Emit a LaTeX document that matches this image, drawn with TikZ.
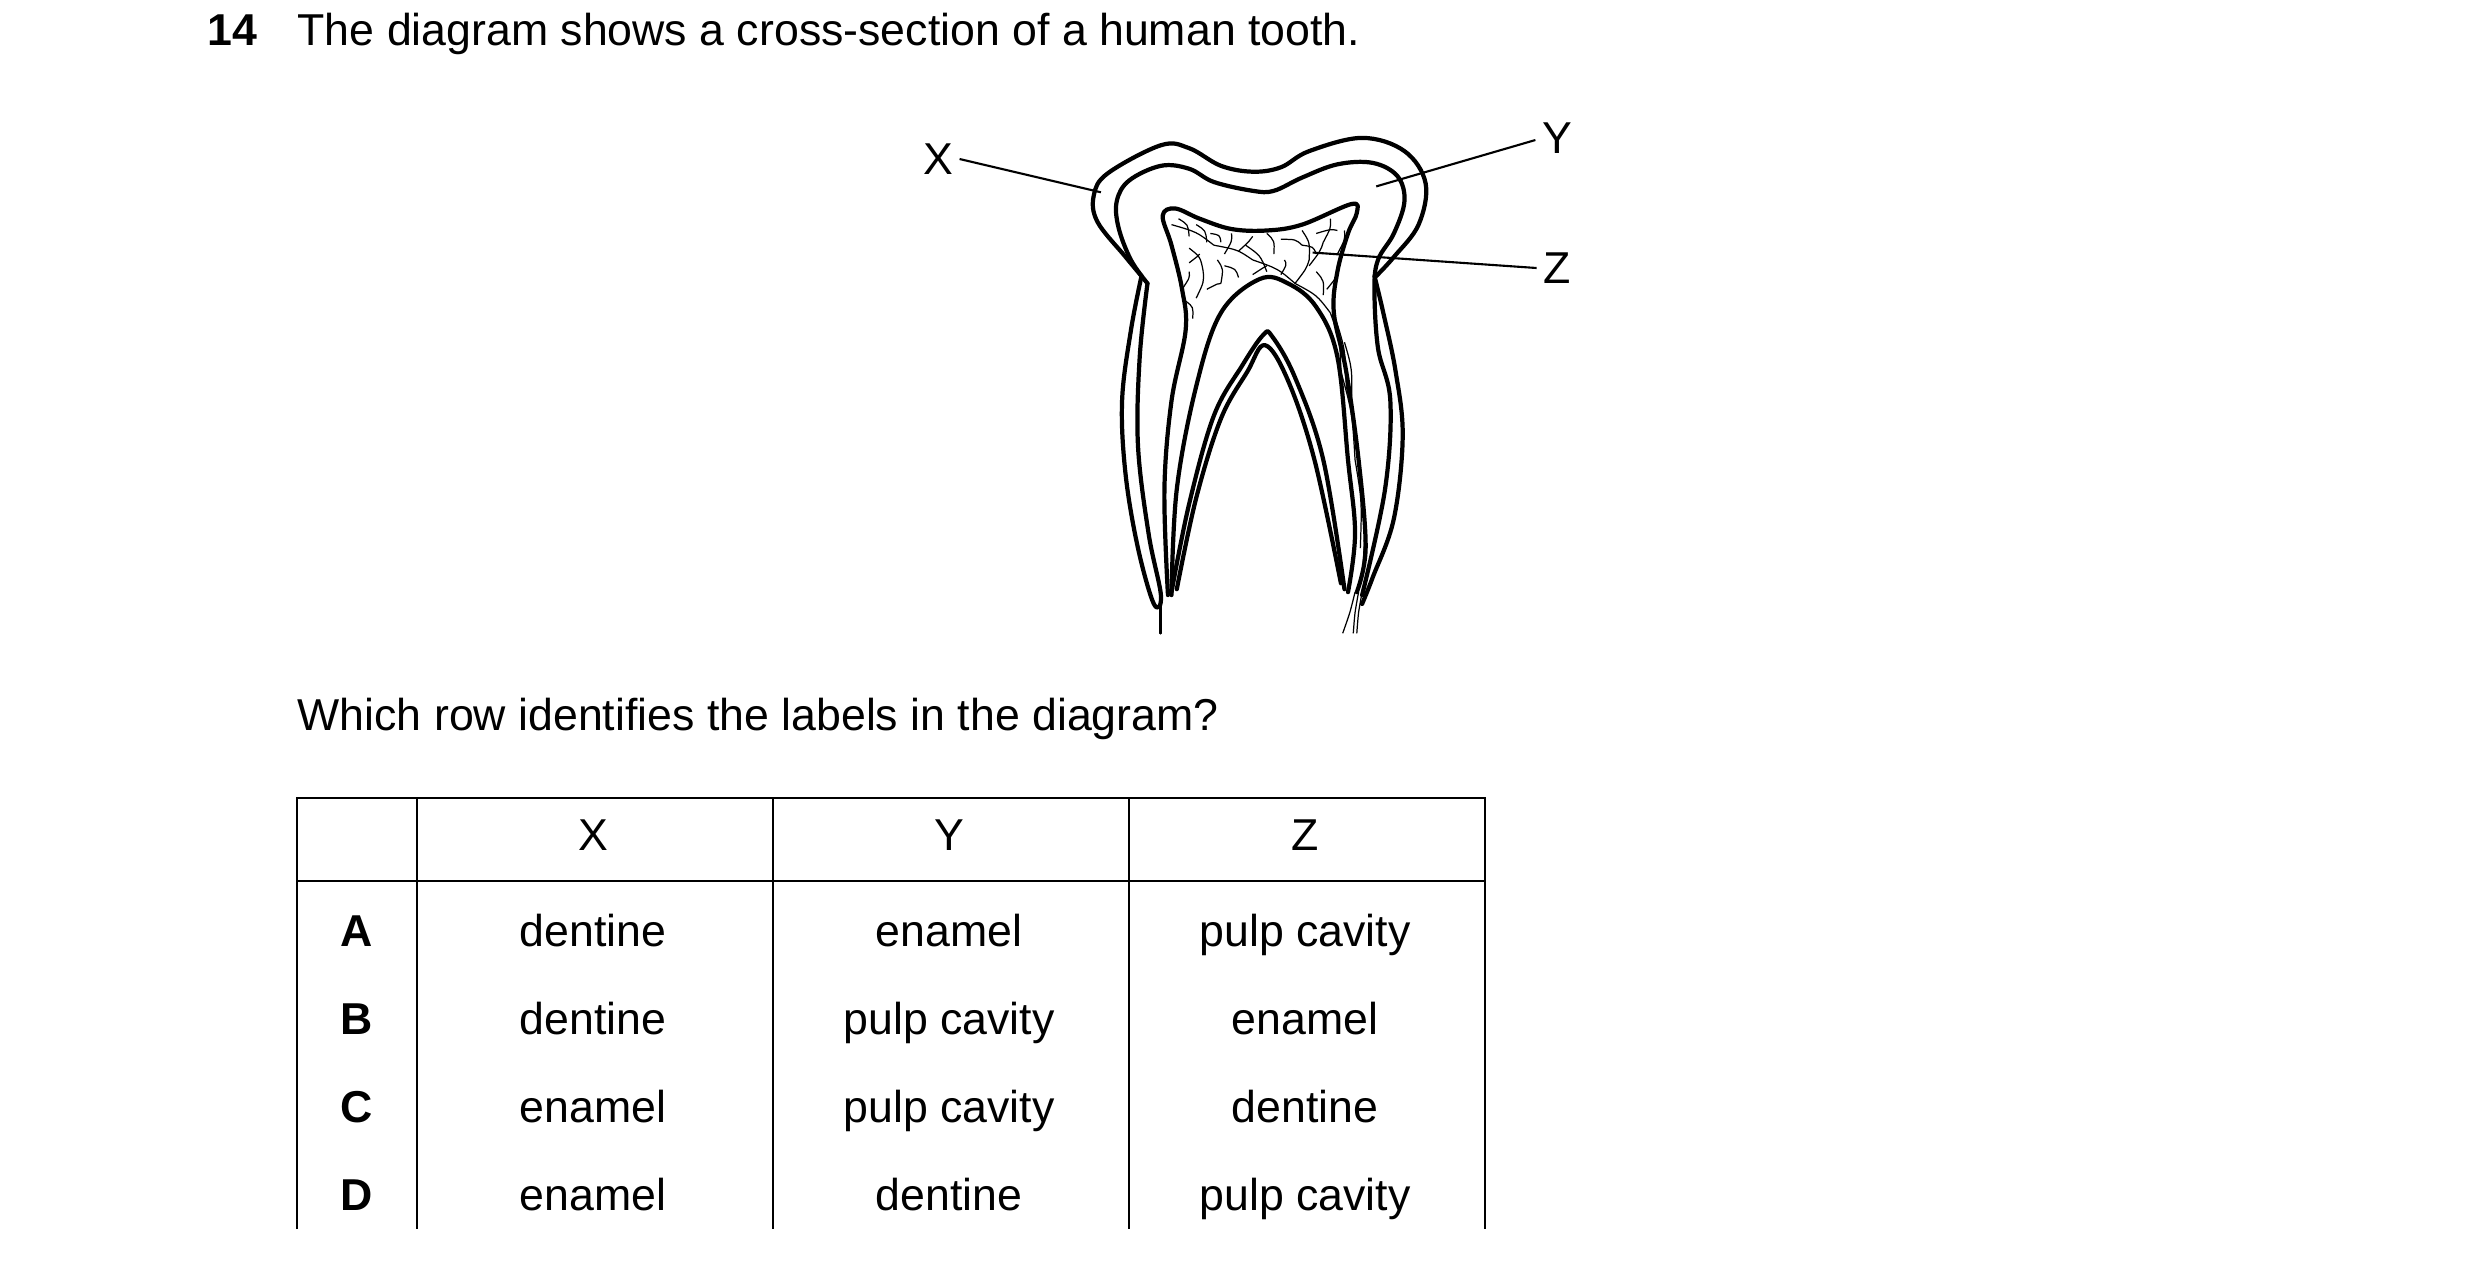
\documentclass[tikz,border=0pt]{standalone}
\usepackage{fontspec}
\setmainfont{Liberation Sans}
\usetikzlibrary{positioning, calc}

\tikzset{
  txt/.style={font=\fontsize{12.7}{15}\selectfont, inner sep=0pt},
  cell/.style={txt, anchor=base},
  tooth/.style={line width=1.2pt, line join=round, line cap=round},
  vein/.style={line width=0.35pt},
  lbl/.style={line width=0.6pt}
}

\begin{document}
\begin{tikzpicture}[x=0.01cm, y=-0.01cm]
\useasboundingbox (0,0) rectangle (2480,1262);

% question
\node[txt, anchor=base west, font=\fontsize{12.7}{15}\selectfont\bfseries] (num) at (207,45) {14};
\node[txt, anchor=base west] (title) at (297,45) {The diagram shows a cross-section of a human tooth.};

% tooth
\begin{scope}[shift={(1055,107)}, xscale=0.353, yscale=0.294]
% enamel outer + left root
\draw[tooth] plot[smooth, tension=0.6] coordinates {(910,575) (960,510) (1030,400) (1050,260) (990,150) (870,105) (720,150) (640,205) (560,220) (470,200) (380,140) (300,130) (150,225) (110,300) (120,390) (200,510) (245,575)};
\draw[tooth] plot[smooth, tension=0.6] coordinates {(245,575) (215,760) (190,1000) (200,1250) (235,1500) (280,1690) (300,1660) (265,1450) (235,1150) (240,850) (262,600)};
% dentine boundary + right root
\draw[tooth] plot[smooth, tension=0.6] coordinates {(262,600) (215,520) (180,410) (175,320) (210,250) (300,200) (380,210) (450,255) (560,285) (620,285) (700,240) (800,195) (900,190) (970,235) (990,320) (960,430) (915,520) (905,620) (915,820) (950,1000) (935,1300) (870,1660)};
\draw[tooth] plot[smooth, tension=0.6] coordinates {(905,575) (930,700) (965,900) (985,1120) (960,1400) (900,1600) (870,1690)};
% pulp chamber and canals
\draw[tooth] plot[smooth, tension=0.6] coordinates {(320,1660) (310,1300) (330,1000) (370,760) (360,620) (330,470) (305,370) (340,345) (410,380) (500,415) (600,420) (700,400) (840,330) (855,360) (830,430) (800,560) (790,700) (825,900) (860,1200) (880,1500) (855,1650)};
\draw[tooth] plot[smooth, tension=0.6] coordinates {(330,1660) (345,1300) (400,950) (470,700) (580,585) (660,600) (740,680) (800,850) (830,1200) (850,1450) (830,1650)};
% inner arch
\draw[tooth] plot[smooth, tension=0.6] coordinates {(330,1650) (380,1350) (450,1050) (530,880) (590,775) (615,780) (680,920) (760,1200) (820,1640)};
\draw[tooth] plot[smooth, tension=0.6] coordinates {(345,1640) (400,1330) (470,1060) (545,900) (595,810) (660,930) (735,1200) (810,1620)};
% stems and nerve
\draw[tooth, line width=0.8pt] (300,1690) -- (300,1790);
\draw[vein] plot[smooth] coordinates {(850,1650) (835,1720) (815,1790)};
\draw[vein] plot[smooth] coordinates {(860,1650) (850,1720) (845,1790)};
\draw[vein] plot[smooth] coordinates {(870,1650) (860,1720) (855,1790)};
% pulp vessels
\foreach \a/\b/\c/\d in {330/400/450/470, 450/470/560/520, 560/520/680/600, 680/600/780/700,
  700/420/720/520, 720/520/680/600, 600/430/620/500, 500/430/480/500, 400/400/430/460,
  780/380/760/460, 760/460/720/540, 380/480/420/560, 420/560/400/650, 380/560/360/620,
  780/700/810/900, 810/900/850/1200, 850/1200/865/1500, 795/720/825/950, 825/950/865/1300,
  865/1300/870/1600, 820/420/800/500, 540/470/600/560, 460/520/470/600,
  350/380/380/440, 640/450/700/470, 560/440/520/490, 740/430/800/420, 650/520/640/570,
  600/540/560/570, 480/540/520/580, 430/620/470/600, 370/660/390/720, 800/560/770/620,
  740/560/760/640, 700/470/740/500, 440/430/470/460, 410/500/380/530, 820/800/840/1000}{
  \draw[vein] (\a,\b) .. controls ($(\a,\b)!0.5!(\c,\d)+(12,-10)$) .. (\c,\d);
}
\coordinate (xpt) at (130,290);
\coordinate (ypt) at (910,270);
\coordinate (zpt) at (730,495);
\end{scope}

% labels
\node[txt] (X) at (938,159) {X};
\node[txt] (Y) at (1557,138) {Y};
\node[txt] (Z) at (1557,268) {Z};
\draw[lbl] (X.east) ++(6,0) -- (xpt);
\draw[lbl] (Y.west) ++(-6,2) -- (ypt);
\draw[lbl] (Z.west) ++(-6,0) -- (zpt);

\node[txt, anchor=base west] (ask) at (297,730) {Which row identifies the labels in the diagram?};

% table
\draw[line width=0.6pt] (297,1229) -- (297,798) -- (1485,798) -- (1485,1229);
\draw[line width=0.6pt] (297,881) -- (1485,881);
\foreach \x in {417,773,1129}{\draw[line width=0.6pt] (\x,798) -- (\x,1229);}
\node[cell] (hx) at (593,850) {X};
\node[cell] (hy) at (949,850) {Y};
\node[cell] (hz) at (1305,850) {Z};
\foreach \r/\y/\p/\q/\s in {A/946/dentine/enamel/pulp cavity, B/1034/dentine/pulp cavity/enamel,
  C/1122/enamel/pulp cavity/dentine, D/1210/enamel/dentine/pulp cavity}{
  \node[cell, font=\fontsize{12.7}{15}\selectfont\bfseries] (row\r) at (357,\y) {\r};
  \node[cell] (x\r) at (593,\y) {\p};
  \node[cell] (y\r) at (949,\y) {\q};
  \node[cell] (z\r) at (1305,\y) {\s};
}
\end{tikzpicture}
\end{document}
